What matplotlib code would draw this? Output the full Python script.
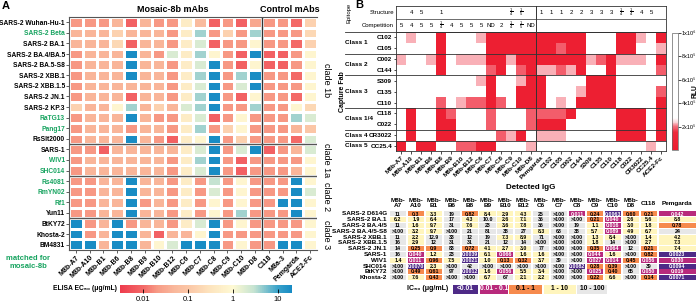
import numpy as np
import matplotlib
matplotlib.use('Agg')
import matplotlib.pyplot as plt
from matplotlib.colors import LinearSegmentedColormap, LogNorm, Normalize
from matplotlib.cm import ScalarMappable
from matplotlib.patches import Rectangle
from matplotlib.transforms import blended_transform_factory

plt.rcParams['font.family'] = ['Liberation Sans', 'DejaVu Sans']
plt.rcParams['mathtext.fontset'] = 'custom'
plt.rcParams['mathtext.rm'] = 'Liberation Sans'
plt.rcParams['mathtext.bf'] = 'Liberation Sans:bold'

# ---------------- panel A : ELISA EC50 ----------------
viruses = ['SARS-2 Wuhan-Hu-1', 'SARS-2 Beta', 'SARS-2 BA.1', 'SARS-2 BA.4/BA.5',
           'SARS-2 BA.5-S8', 'SARS-2 XBB.1', 'SARS-2 XBB.1.5', 'SARS-2 JN.1',
           'SARS-2 KP.3', 'RaTG13', 'Pang17', 'RsSlt2000', 'SARS-1', 'WIV1',
           'SHC014', 'Rs4081', 'RmYN02', 'Rf1', 'Yun11', 'BtKY72', 'Khosta-2', 'BM4831']
matched = ['SARS-2 Beta', 'RaTG13', 'Pang17', 'WIV1', 'SHC014', 'Rs4081', 'RmYN02', 'Rf1']
elisa_mabs = ['M8b-A7', 'M8b-A10', 'M8b-B1', 'M8b-B6', 'M8b-B8', 'M8b-B9', 'M8b-B10',
              'M8b-B12', 'M8b-C6', 'M8b-C7', 'M8b-C8', 'M8b-C9', 'M8b-C10', 'M8b-D8',
              'C118', 'M8a-3', 'Pemgarda', 'ACE2-Fc']
clades = ['clade 1b', 'clade 1a', 'clade 2', 'clade 3']
clade_sizes = [12, 3, 4, 3]

ec50 = [
    [0.02, 0.02, 0.02, 0.045, 0.008, 0.045, 0.02, 0.02, 0.5, 0.06, 0.008, 0.02, 0.008, 0.03, 0.02, 0.02, 0.01, 0.15],
    [0.045, 0.045, 0.045, 0.15, 0.045, 0.045, 0.045, 0.02, 0.5, 4, 0.02, 0.15, 0.02, 4, 0.02, 0.02, 0.02, 0.2],
    [0.045, 0.045, 0.045, 0.2, 0.008, 0.045, 0.045, 0.02, 0.5, 2, 0.008, 0.02, 0.02, 0.8, 0.02, 0.02, 0.01, 0.15],
    [0.02, 0.045, 0.045, 0.045, 20, 0.045, 0.02, 2, 0.5, 4, 0.8, 0.02, 0.008, 20, 0.008, 0.008, 0.02, 0.8],
    [0.02, 0.045, 0.045, 0.045, 20, 0.045, 0.045, 0.02, 0.5, 2, 20, 0.02, 0.008, 0.8, 0.008, 0.008, 0.02, 0.8],
    [0.02, 0.045, 0.045, 0.045, 20, 0.045, 0.045, 0.02, 0.5, 4, 20, 0.02, 4, 20, 0.02, 0.02, 0.01, 0.8],
    [0.02, 0.045, 0.045, 0.045, 0.045, 0.045, 0.045, 0.02, 0.5, 2, 20, 0.02, 2, 20, 0.02, 0.02, 0.02, 0.8],
    [0.02, 0.045, 0.045, 0.045, 0.008, 0.045, 0.045, 0.02, 0.5, 4, 20, 0.02, 0.008, 0.8, 0.02, 0.02, 0.01, 0.8],
    [0.15, 0.045, 0.045, 0.8, 4, 0.045, 0.15, 0.045, 2, 4, 20, 0.02, 0.02, 4, 0.02, 0.02, 0.8, 0.2],
    [0.02, 0.045, 0.045, 0.045, 20, 0.045, 0.02, 0.02, 0.5, 2, 0.008, 0.02, 0.8, 0.02, 0.02, 0.02, 4, 2],
    [0.02, 0.045, 0.045, 0.045, 0.02, 0.045, 0.045, 0.02, 0.5, 4, 0.02, 0.15, 0.8, 0.02, 0.02, 0.02, 0.045, 0.1],
    [0.02, 0.045, 0.045, 0.045, 20, 0.045, 0.02, 0.008, 0.5, 0.8, 20, 0.02, 0.15, 0.02, 0.02, 0.02, 0.01, 2],
    [0.02, 0.02, 0.008, 0.045, 0.045, 0.045, 0.045, 0.045, 0.5, 2, 20, 0.02, 2, 20, 0.008, 0.02, 0.045, 2],
    [0.02, 0.045, 0.045, 0.045, 0.045, 0.045, 0.045, 0.02, 0.5, 4, 20, 0.02, 0.008, 0.02, 0.02, 0.02, 0.02, 0.8],
    [0.02, 0.045, 0.045, 0.045, 0.045, 0.045, 0.045, 0.02, 0.5, 2, 20, 0.02, 0.008, 0.02, 0.02, 0.02, 0.045, 0.8],
    [0.02, 0.02, 0.045, 0.045, 20, 0.045, 0.045, 0.02, 0.5, 0.02, 3, 0.02, 0.8, 0.02, 0.02, 0.02, 20, 0.8],
    [0.02, 0.02, 0.045, 0.045, 20, 0.045, 0.045, 0.02, 0.5, 0.02, 2, 0.02, 0.8, 0.02, 0.02, 0.02, 20, 2],
    [0.02, 0.02, 0.045, 0.045, 20, 0.02, 0.045, 0.02, 0.5, 0.02, 0.8, 0.02, 0.8, 0.02, 0.02, 20, 20, 0.8],
    [0.02, 0.02, 0.045, 0.045, 20, 0.045, 0.045, 0.02, 0.5, 0.02, 0.8, 0.02, 4, 0.02, 0.02, 0.02, 20, 0.8],
    [20, 0.02, 0.045, 20, 0.02, 0.045, 0.045, 0.02, 0.5, 2, 20, 0.02, 0.8, 0.02, 0.02, 0.02, 0.02, 0.8],
    [20, 0.02, 0.045, 20, 20, 0.045, 0.008, 0.045, 0.045, 0.8, 20, 0.02, 0.02, 0.02, 0.02, 0.02, 0.02, 0.8],
    [20, 20, 0.045, 20, 20, 0.045, 0.8, 2, 20, 20, 20, 0.02, 0.8, 0.02, 0.02, 20, 20, 0.8],
]

# ---------------- panel B : competition ----------------
capture_fabs = ['C102', 'C105', 'C002', 'C144', 'S309', 'C135', 'C110', 'C118', 'C022', 'CR3022', 'CC25.4']
fab_classes = ['Class 1', 'Class 2', 'Class 3', 'Class 1/4', 'Class 4', 'Class 5']
class_sizes = [2, 2, 3, 2, 1, 1]
detected = ['M8b-A7', 'M8b-A10', 'M8b-B1', 'M8b-B6', 'M8b-B8', 'M8b-B9', 'M8b-B10', 'M8b-B12',
            'M8b-C6', 'M8b-C7', 'M8b-C8', 'M8b-C9', 'M8b-C10', 'M8b-D8', 'Pemgarda', 'C102',
            'C105', 'C002', 'C144', 'S309', 'C135', 'C110', 'C118', 'C022', 'CR3022', 'CC25.4', 'ACE2-Fc']
structure = ['', '4', '5', '', '1', '', '', '', '', '', '', r'$\frac{1}{4}$', r'$\frac{1}{5}$', '',
             '1', '1', '1', '2', '2', '3', '3', '3', r'$\frac{1}{4}$', r'$\frac{1}{4}$', '4', '5', '']
competition = ['5', '4', '5', '5', r'$\frac{1}{4}$', '4', '5', '5', '5', 'ND', '2', r'$\frac{1}{4}$',
               r'$\frac{1}{5}$', 'ND'] + [''] * 13

R, M, L, Wt = 40000, 190000, 225000, 850000
rlu = [
    [Wt, L, Wt, Wt, R, Wt, Wt, Wt, L, R, R, R, R, R, R, R, R, R, R, Wt, Wt, Wt, R, R, L, Wt, R],
    [Wt, Wt, Wt, Wt, R, Wt, Wt, Wt, Wt, R, R, R, R, R, R, R, M, R, R, Wt, Wt, Wt, R, R, Wt, Wt, L],
    [L, Wt, Wt, L, R, Wt, L, L, L, R, R, L, R, R, R, R, R, R, R, L, M, R, L, L, L, Wt, R],
    [Wt, Wt, Wt, Wt, R, Wt, Wt, Wt, Wt, M, R, Wt, M, R, L, L, M, L, R, Wt, Wt, R, Wt, Wt, Wt, Wt, M],
    [Wt, Wt, Wt, Wt, Wt, Wt, Wt, Wt, L, R, Wt, Wt, L, R, R, Wt, Wt, Wt, Wt, R, R, R, Wt, Wt, Wt, Wt, Wt],
    [Wt, Wt, Wt, Wt, Wt, Wt, Wt, Wt, Wt, R, Wt, Wt, R, R, R, Wt, Wt, Wt, L, R, R, R, Wt, Wt, Wt, Wt, M],
    [Wt, Wt, Wt, Wt, M, Wt, L, M, M, R, M, Wt, R, R, R, Wt, L, Wt, R, R, R, R, Wt, Wt, Wt, Wt, R],
    [Wt, R, Wt, Wt, R, M, Wt, Wt, Wt, M, Wt, Wt, Wt, M, M, M, M, R, Wt, Wt, Wt, Wt, R, R, R, Wt, R],
    [Wt, R, Wt, Wt, R, R, Wt, Wt, Wt, M, Wt, Wt, Wt, M, R, R, R, Wt, Wt, Wt, Wt, Wt, R, R, R, Wt, R],
    [Wt, R, Wt, Wt, R, R, Wt, Wt, Wt, Wt, M, L, R, Wt, L, L, L, Wt, Wt, Wt, Wt, Wt, R, R, R, Wt, R],
    [R, Wt, R, R, Wt, Wt, M, M, R, R, Wt, Wt, Wt, L, Wt, Wt, Wt, Wt, Wt, Wt, Wt, Wt, Wt, Wt, Wt, L, Wt],
]

# ---------------- panel C : neutralization IC50 ----------------
pv_strains = ['SARS-2 D614G', 'SARS-2 BA.1', 'SARS-2 BA.4/5', 'SARS-2 BA.4/5-S8', 'SARS-2 XBB.1',
              'SARS-2 XBB.1.5', 'SARS-2 JN.1', 'SARS-1', 'WIV1', 'SHC014', 'BtKY72', 'Khosta-2']
pv_headers = ['M8b-\nA7', 'M8b-\nA10', 'M8b-\nB1', 'M8b-\nB6', 'M8b-\nB8', 'M8b-\nB9', 'M8b-\nB10',
              'M8b-\nB12', 'M8b-\nC6', 'M8b-\nC7', 'M8b-\nC8', 'M8b-\nC9', 'M8b-\nC10', 'M8b-\nD8',
              'C118', 'Pemgarda']
ic50 = [
    ['11', '0.3', '3.3', '19', '0.82', '8.4', '2.9', '4.3', '25', '>100', '0.011', '0.24', '0.0063', '0.60', '0.21', '0.042'],
    ['6.2', '1.9', '6.4', '17', '4.3', '10.0', '2.6', '7.1', '36', '>100', '>100', '0.21', '0.040', '2.6', '5.6', '8.8'],
    ['11', '1.6', '9.7', '31', '7.6', '23', '3.6', '7.8', '36', '>100', '19', '1.1', '0.016', '3.0', '1.8', '0.78'],
    ['>100', '3.2', '9.7', '>100', '21', '81', '38', '27', '8.3', '63', '38', '5.7', '0.089', '4.9', '6.7', '24'],
    ['11', '2.2', '12.9', '33', '12', '19', '7.3', '8.9', '71', '>100', '>100', '1.3', '8.4', '>100', '1.4', '4.2'],
    ['16', '2.9', '12', '31', '31', '21', '12', '14', '>100', '>100', '>100', '1.8', '14', '>100', '2.7', '7.3'],
    ['14', '0.25', '0.9', '83', '0.72', '4.1', '2.7', '3.0', '77', '>100', '>100', '0.35', '0.064', '12', '0.21', '7.4'],
    ['16', '0.040', '1.2', '23', '0.0039', '6.1', '0.066', '1.6', '1.6', '>100', '>100', '0.044', '1.6', '>100', '0.82', '0.0023'],
    ['1.4', '0.011', '0.96', '7.5', '0.0021', '1.0', '0.13', '0.32', '3.7', '39', '>100', '0.027', '0.014', '0.45', '0.056', '0.030'],
    ['>100', '0.0070', '2.3', '>100', '42', '>100', '>100', '>100', '>100', '>100', '0.0082', '0.28', '0.39', '>100', '39', '0.0094'],
    ['>100', '0.49', '0.61', '97', '0.0012', '1.6', '0.056', '5.5', '3.4', '>100', '>100', '0.025', '0.40', '65', '0.050', '0.019'],
    ['>100', '7.6', '0.43', '>100', '>100', '6.7', '67', '2.1', '2.2', '>100', '>100', '0.22', '6.6', '>100', '0.14', '0.0071'],
]
ic50_bins = ['<0.01', '0.01 - 0.1', '0.1 - 1', '1 - 10', '10 - 100']
bin_colors = ['#4e2a87', '#b82a7c', '#f68a4d', '#fff5bd', '#e7e7e7']

W, H = 700, 305
fig = plt.figure(figsize=(W / 100, H / 100), dpi=100)


def px_axes(x0, y0, x1, y1):
    return fig.add_axes([x0 / W, 1 - y1 / H, (x1 - x0) / W, (y1 - y0) / H])


def fig_text(x, y, s, **kw):
    return fig.text(x / W, 1 - y / H, s, **kw)


# ---- A heatmap
normA = LogNorm(0.003, 21)
lo, hi = np.log10(0.003), np.log10(21)
stops = [0.003, 0.01, 0.02, 0.05, 0.1, 0.3, 1, 3, 10, 21]
stop_cols = ['#ee3b4d', '#f36a68', '#f79a85', '#f9b89c', '#fbc6a6', '#fde3bd', '#fef9d3',
             '#c5e3d1', '#3aa3ca', '#178bc4']
cmapA = LinearSegmentedColormap.from_list(
    'ec', [((np.log10(s) - lo) / (hi - lo), c) for s, c in zip(stops, stop_cols)])

axA = px_axes(69, 17, 317, 250)
axA.pcolormesh(np.array(ec50), cmap=cmapA, norm=normA, edgecolors='white', linewidth=0.9)
axA.set_xlim(0, len(elisa_mabs))
axA.set_ylim(len(viruses), 0)
axA.set_yticks(np.arange(len(viruses)) + 0.5)
axA.set_yticklabels(viruses, fontsize=4.8, fontweight='bold')
for lab in axA.get_yticklabels():
    lab.set_color('#16a35f' if lab.get_text() in matched else 'black')
axA.set_xticks(np.arange(len(elisa_mabs)) + 0.5)
axA.set_xticklabels(elisa_mabs, rotation=45, ha='right', rotation_mode='anchor',
                    fontsize=5, fontweight='bold')
axA.tick_params(length=2, width=0.6, color='#444', pad=1)
for side in ['top', 'left', 'bottom']:
    axA.spines[side].set_color('#555')
    axA.spines[side].set_linewidth(0.8)
axA.spines['right'].set_visible(False)
axA.axvline(14, color='#333', lw=1)
edges = np.cumsum(clade_sizes)
for b in edges[:-1]:
    axA.axhline(b, color='#555', lw=1)
starts = np.concatenate([[0], edges[:-1]])
for name, s0, n in zip(clades, starts, clade_sizes):
    axA.text(18.35, s0 + n / 2, name, rotation=270, va='center', ha='left', fontsize=6.5)
axA.text(7.5, -0.75, 'Mosaic-8b mAbs', ha='center', va='center', fontsize=6.5, fontweight='bold')
axA.text(16, -0.75, 'Control mAbs', ha='center', va='center', fontsize=6.5, fontweight='bold')

fig_text(28, 263, 'matched for\nmosaic-8b', ha='center', va='center', fontsize=5.5,
         fontweight='bold', color='#16a35f', linespacing=1.2)

caxA = px_axes(120, 285, 292, 293)
cbA = fig.colorbar(ScalarMappable(norm=normA, cmap=cmapA), cax=caxA, orientation='horizontal')
cbA.set_ticks([0.01, 0.1, 1, 10])
cbA.set_ticklabels(['0.01', '0.1', '1', '10'])
caxA.minorticks_off()
caxA.tick_params(direction='in', length=3, width=0.6, labelsize=5.5, pad=2)
cbA.outline.set_visible(False)
fig_text(117, 289, 'ELISA EC₅₀ (μg/mL)', ha='right', va='center', fontsize=4.9, fontweight='bold')

fig_text(2, 6, 'A', ha='left', va='center', fontsize=8, fontweight='bold')
fig_text(355, 5, 'B', ha='left', va='center', fontsize=8, fontweight='bold')

# ---- B heatmap
cmapB = LinearSegmentedColormap.from_list('rlu', [
    (0.0, '#ec1b2e'), (0.15, '#ee2a3c'), (0.2, '#f46d7a'), (0.235, '#fbd0d5'),
    (0.27, '#ffffff'), (1.0, '#ffffff')])
normB = Normalize(0, 1e6)
axB = px_axes(396, 32, 666, 151.4)
axB.pcolormesh(np.array(rlu), cmap=cmapB, norm=normB)
axB.set_xlim(0, len(detected))
axB.set_ylim(len(capture_fabs), 0)
axB.set_yticks(np.arange(len(capture_fabs)) + 0.5)
axB.set_yticklabels(capture_fabs, fontsize=4.6, fontweight='bold')
axB.set_xticks(np.arange(len(detected)) + 0.5)
axB.set_xticklabels(detected, rotation=45, ha='right', rotation_mode='anchor',
                    fontsize=4.6, fontweight='bold')
axB.tick_params(length=1.8, width=0.5, pad=1)
for sp in axB.spines.values():
    sp.set_linewidth(0.6)
    sp.set_color('#333')
bt = blended_transform_factory(fig.transFigure, axB.transData)
cedges = np.concatenate([[0], np.cumsum(class_sizes)])
for b in cedges[:-1]:
    axB.plot([345 / W, 666 / W], [b, b], color='#333', lw=0.6, transform=bt, clip_on=False)
for name, s0, n in zip(fab_classes, cedges[:-1], class_sizes):
    axB.text(345 / W, s0 + n / 2, name, transform=bt, ha='left', va='center',
             fontsize=4.6, fontweight='bold')
axB.axvline(14, color='#333', lw=0.7)
axB.set_xlabel('Detected IgG', fontsize=5.8, fontweight='bold', labelpad=1)
axB.xaxis.set_label_coords(0.5, -0.27)
fig_text(342, 92, 'Capture Fab', rotation=90, ha='center', va='center', fontsize=5, fontweight='bold')

axT = px_axes(396, 6, 666, 32)
axT.set_xlim(0, len(detected))
axT.set_ylim(2, 0)
axT.set_xticks([])
axT.set_yticks([])
for sp in axT.spines.values():
    sp.set_linewidth(0.6)
    sp.set_color('#333')
axT.axhline(1, color='#333', lw=0.5)
axT.axvline(14, color='#333', lw=0.7)
for i, (s, c) in enumerate(zip(structure, competition)):
    if s:
        axT.text(i + 0.5, 0.5, s, ha='center', va='center', fontsize=4.3)
    if c:
        axT.text(i + 0.5, 1.5, c, ha='center', va='center', fontsize=4.3)
axT.text(-0.2, 0.5, 'Structure', ha='right', va='center', fontsize=4.3)
axT.text(-0.2, 1.5, 'Competition', ha='right', va='center', fontsize=4.3)
fig_text(349, 13, 'Epitope', rotation=90, ha='center', va='center', fontsize=4.3)

caxB = px_axes(672, 33, 678, 150)
cbB = fig.colorbar(ScalarMappable(norm=normB, cmap=cmapB), cax=caxB)
cbB.set_ticks([2e5, 4e5, 6e5, 8e5, 1e6])
cbB.set_ticklabels(['2x10⁵', '4x10⁵', '6x10⁵', '8x10⁵', '1x10⁶'])
caxB.tick_params(labelsize=4, length=1.8, width=0.5, pad=1)
cbB.outline.set_linewidth(0.5)
cbB.outline.set_edgecolor('#666')
fig_text(695, 91, 'RLU', rotation=90, ha='center', va='center', fontsize=4.8, fontweight='bold')

# ---- C table
axC = px_axes(389, 211, 697, 280.5)
widths = np.array([1.0] * 15 + [2.2])
xedges = np.concatenate([[0], np.cumsum(widths)])
axC.set_xlim(0, xedges[-1])
axC.set_ylim(len(pv_strains), 0)
axC.axis('off')
bounds = [0.01, 0.1, 1, 10]
for r, row in enumerate(ic50):
    for c, txt in enumerate(row):
        v = 1000.0 if txt.startswith('>') else float(txt)
        k = int(np.searchsorted(bounds, v, side='right'))
        axC.add_patch(Rectangle((xedges[c] + 0.05, r + 0.07), widths[c] - 0.1, 0.86,
                                facecolor=bin_colors[k], edgecolor='none'))
        axC.text(xedges[c] + widths[c] / 2, r + 0.52, txt, ha='center', va='center',
                 fontsize=3.8, fontweight='bold', color='white' if k < 2 else 'black')
    axC.text(-0.12, r + 0.5, pv_strains[r], ha='right', va='center', fontsize=4.6,
             fontweight='bold', clip_on=False)
for c, hd in enumerate(pv_headers):
    axC.text(xedges[c] + widths[c] / 2, -0.5 if '\n' in hd else -0.9, hd, ha='center',
             va='bottom', fontsize=4.6, fontweight='bold', linespacing=1.0, clip_on=False)

fig_text(448, 289, 'IC₅₀ (μg/mL)', ha='right', va='center', fontsize=5, fontweight='bold')
axL = px_axes(452, 284.5, 608, 293.5)
lw_ = np.array([26, 28, 33, 32, 30])
ledges = np.concatenate([[0], np.cumsum(lw_)])
axL.set_xlim(0, ledges[-1])
axL.set_ylim(0, 1)
axL.axis('off')
for i, (lab, col) in enumerate(zip(ic50_bins, bin_colors)):
    axL.add_patch(Rectangle((ledges[i] + 0.8, 0), lw_[i] - 1.6, 1, facecolor=col, edgecolor='none'))
    axL.text(ledges[i] + lw_[i] / 2, 0.5, lab, ha='center', va='center', fontsize=4.8,
             fontweight='bold', color='white' if i < 2 else 'black')

fig.savefig('out.png', dpi=100)
